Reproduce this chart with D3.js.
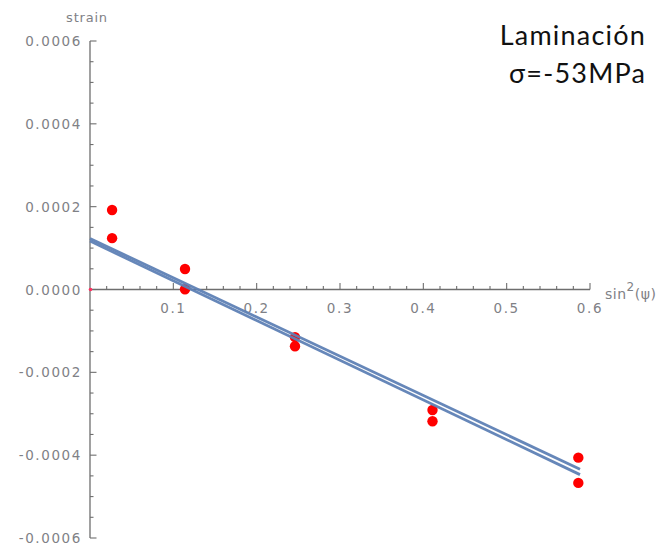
<!DOCTYPE html>
<html><head><meta charset="utf-8">
<script src="https://cdn.jsdelivr.net/npm/d3@7"></script>
<style>
body{margin:0;background:#fff;}
svg{display:block;}
</style></head>
<body>
<svg id="c" width="663" height="548"></svg>
<script>
// data
const sin2psi = [0.0265, 0.0265, 0.114, 0.114, 0.246, 0.246, 0.411, 0.411, 0.586, 0.586];
const strain  = [0.000192, 0.000124, 0.0000495, 0.0000005, -0.000115, -0.000137, -0.000291, -0.000318, -0.000406, -0.000467];
const originPoint = [[0, 0]];
const fitA = [[0, 0.000123], [0.588, -0.000434]];
const fitB = [[0, 0.000117], [0.588, -0.000447]];
const xTicks = [0.1, 0.2, 0.3, 0.4, 0.5, 0.6];
const xTickLabels = ["0.1", "0.2", "0.3", "0.4", "0.5", "0.6"];
const yTicks = [0.0006, 0.0004, 0.0002, 0, -0.0002, -0.0004, -0.0006];
const yTickLabels = ["0.0006", "0.0004", "0.0002", "0.0000", "-0.0002", "-0.0004", "-0.0006"];
const titleLines = ["Laminación", "σ=-53MPa"];

const svg = d3.select("#c");
const x = d3.scaleLinear().domain([0, 0.6]).range([90, 590]);
const y = d3.scaleLinear().domain([-0.0006, 0.0006]).range([538, 41]);

const axisColor = "#6e6e6e";
const labelColor = "#7f8186";
const tickFont = "DejaVu Sans, sans-serif";

// y axis
const gy = svg.append("g").attr("transform", `translate(${x(0)},0)`);
gy.append("line").attr("y1", y(0.0006)).attr("y2", y(-0.0006)).attr("stroke", axisColor).attr("stroke-width", 1.3);
const yMinor = d3.range(-0.0006, 0.00060001, 0.00005);
gy.selectAll("line.minor").data(yMinor).join("line").attr("class","minor")
  .attr("x1", 0).attr("x2", d => Math.abs(Math.round(d/0.00005)) % 4 === 0 ? 6.5 : 3.5)
  .attr("y1", d => y(d)).attr("y2", d => y(d)).attr("stroke", axisColor).attr("stroke-width", 1.1);
gy.selectAll("text").data(yTicks).join("text")
  .attr("x", -8).attr("y", d => y(d) + 5)
  .attr("text-anchor", "end").attr("font-family", tickFont).attr("font-size", 13.5)
  .attr("letter-spacing", 1.6).attr("fill", labelColor)
  .text((d, i) => yTickLabels[i]);
svg.append("text").attr("x", 87).attr("y", 22).attr("text-anchor", "middle")
  .attr("font-family", tickFont).attr("font-size", 13).attr("letter-spacing", 0.8)
  .attr("fill", labelColor).text("strain");

// x axis
const gx = svg.append("g").attr("transform", `translate(0,${y(0)})`);
gx.append("line").attr("x1", x(0)).attr("x2", x(0.6)).attr("stroke", axisColor).attr("stroke-width", 1.3);
const xMinor = d3.range(0.02, 0.6001, 0.02);
gx.selectAll("line.minor").data(xMinor).join("line").attr("class","minor")
  .attr("x1", d => x(d)).attr("x2", d => x(d))
  .attr("y1", 0).attr("y2", d => Math.round(d/0.02) % 5 === 0 ? -6.5 : -3.5)
  .attr("stroke", axisColor).attr("stroke-width", 1.1);
gx.selectAll("text").data(xTicks).join("text")
  .attr("x", d => x(d)).attr("y", 23)
  .attr("text-anchor", "middle").attr("font-family", tickFont).attr("font-size", 13.5)
  .attr("letter-spacing", 1.6).attr("fill", labelColor)
  .text((d, i) => xTickLabels[i]);
const xl = svg.append("text").attr("x", 605).attr("y", y(0) + 9)
  .attr("font-family", tickFont).attr("font-size", 14).attr("letter-spacing", 0.5).attr("fill", labelColor);
xl.append("tspan").text("sin");
xl.append("tspan").attr("dy", -8).attr("font-size", 12).text("2");
xl.append("tspan").attr("dy", 8).text("(ψ)");

// points
svg.append("g").selectAll("circle").data(sin2psi).join("circle")
  .attr("cx", d => x(d)).attr("cy", (d, i) => y(strain[i])).attr("r", 5.2).attr("fill", "#ff0000");
svg.append("g").selectAll("circle").data(originPoint).join("circle")
  .attr("cx", d => x(d[0]) + 0.5).attr("cy", d => y(d[1])).attr("r", 1.8).attr("fill", "#ff3060");

// fit lines
const line = d3.line().x(d => x(d[0])).y(d => y(d[1]));
[fitA, fitB].forEach(f => {
  svg.append("path").datum(f).attr("d", line).attr("fill", "none")
    .attr("stroke", "#5e81b5").attr("stroke-width", 2.8).attr("opacity", 0.95);
});

// title
svg.append("g").selectAll("text").data(titleLines).join("text")
  .attr("x", 646).attr("y", (d, i) => 45 + i * 38).attr("text-anchor", "end")
  .attr("font-family", "Lato, 'Open Sans', sans-serif").attr("font-size", 27)
  .attr("letter-spacing", 1.2).attr("fill", "#111")
  .text(d => d);
</script>
</body></html>
